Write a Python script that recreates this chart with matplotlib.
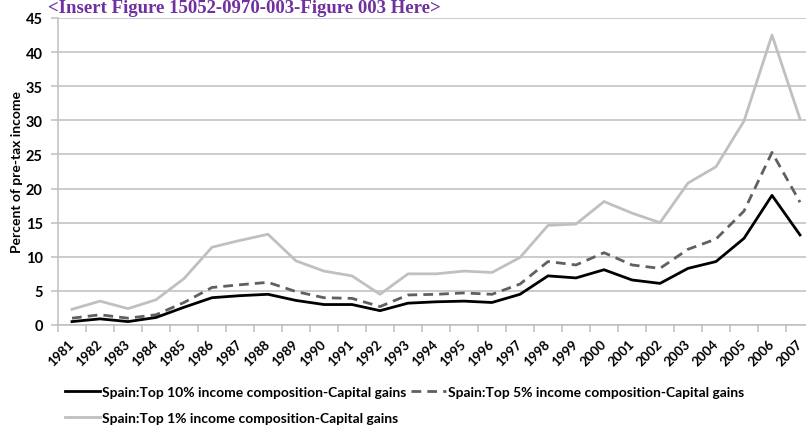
import numpy as np
import matplotlib.pyplot as plt

# values (percent of pre-tax income)
years = [str(y) for y in range(1981, 2008)]
top10 = [0.5, 0.9, 0.5, 1.1, 2.6, 4.0, 4.3, 4.5, 3.6, 3.0, 3.0, 2.1, 3.2, 3.4,
         3.5, 3.3, 4.5, 7.2, 6.9, 8.1, 6.6, 6.1, 8.3, 9.3, 12.7, 19.0, 13.2]
top5 = [1.0, 1.5, 1.0, 1.5, 3.3, 5.5, 5.9, 6.25, 4.9, 4.0, 3.9, 2.7, 4.4, 4.5,
        4.7, 4.5, 6.0, 9.3, 8.8, 10.6, 8.8, 8.3, 11.1, 12.6, 16.7, 25.3, 18.0]
top1 = [2.3, 3.5, 2.4, 3.7, 6.8, 11.4, 12.4, 13.3, 9.4, 7.9, 7.2, 4.5, 7.5, 7.5,
        7.9, 7.7, 9.9, 14.6, 14.8, 18.1, 16.4, 15.0, 20.8, 23.2, 29.9, 42.5, 30.2]

labels = ["Spain:Top 10% income composition-Capital gains",
          "Spain:Top 5% income composition-Capital gains",
          "Spain:Top 1% income composition-Capital gains"]

plt.rcParams['font.family'] = ['Lato', 'DejaVu Sans']
plt.rcParams['font.weight'] = 'bold'

W, H = 806, 427
fig = plt.figure(figsize=(W / 100, H / 100), dpi=100)
# axes runs slightly past the right edge, as in the reference
ax = fig.add_axes([58 / W, 101 / H, 756 / W, 307 / H])

x = np.arange(len(years))
grid_c = "#BFBFBF"

l10, = ax.plot(x, top10, color="black", lw=2.0, zorder=4)
l5, = ax.plot(x, top5, color="#606060", lw=2.0, dashes=(3.5, 2.2), zorder=3)
l1, = ax.plot(x, top1, color="#C0C0C0", lw=2.0, zorder=2)

ax.set_xlim(-0.5, len(years) - 0.5)
ax.set_ylim(0, 45)
ax.set_yticks(np.arange(0, 46, 5))
ax.yaxis.grid(True, color=grid_c, lw=1.1)
ax.set_axisbelow(True)

ax.set_xticks(x)
ax.set_xticklabels(years, rotation=45, ha="right", va="center",
                   rotation_mode="anchor", fontsize=9.5, fontweight="bold")
ax.set_xticks(np.arange(-0.5, len(years), 1.0), minor=True)
ax.tick_params(axis="x", which="major", length=0, pad=12)
ax.tick_params(axis="x", which="minor", length=5, color=grid_c, width=1.1)
ax.tick_params(axis="y", length=5, color=grid_c, width=1.1, pad=6,
               labelsize=10.5)
for t in ax.get_yticklabels():
    t.set_fontweight("bold")

for s in ["top", "right"]:
    ax.spines[s].set_visible(False)
ax.spines["left"].set_color(grid_c)
ax.spines["left"].set_linewidth(1.1)
ax.spines["bottom"].set_color(grid_c)
ax.spines["bottom"].set_linewidth(1.1)

fig.text(17 / W, 1 - 172 / H, "Percent of pre-tax income", rotation=90,
         ha="center", va="center", fontsize=10, fontweight="bold")

fig.text(48 / W, 1.0, "<Insert Figure 15052-0970-003-Figure 003 Here>",
         family="Liberation Serif", fontweight="bold", fontsize=13.5,
         color="#7030A0", ha="left", va="top")

fig.legend([l10, l1, l5], [labels[0], labels[2], labels[1]], ncol=2,
           loc="upper left", bbox_to_anchor=(65 / W, 1 - 387 / H),
           frameon=False, fontsize=10, handlelength=2.5, handletextpad=0.15,
           columnspacing=0.35, labelspacing=1.0, borderpad=0, borderaxespad=0)

fig.savefig("out.png", dpi=100)
